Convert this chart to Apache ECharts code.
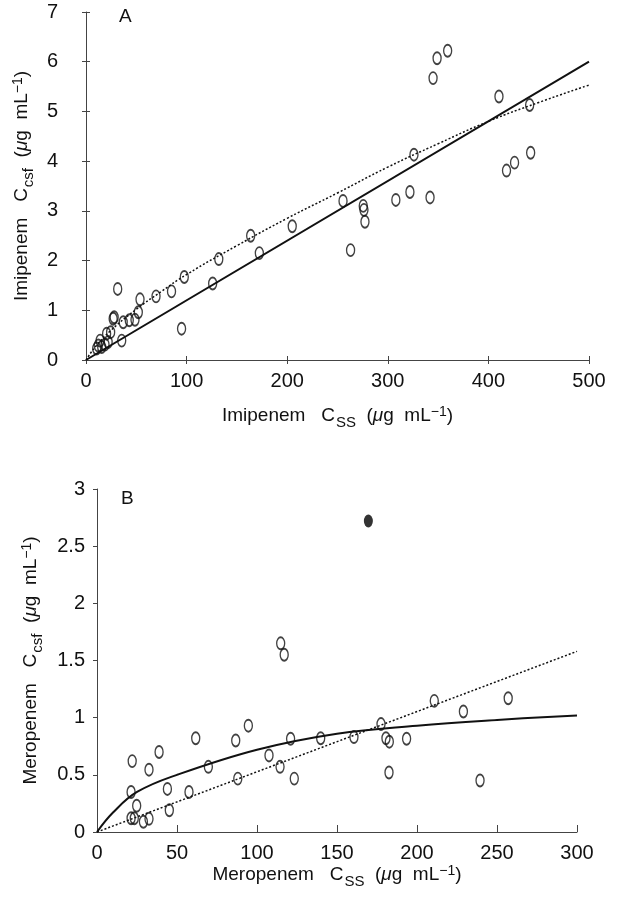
<!DOCTYPE html>
<html>
<head>
<meta charset="utf-8">
<script src="https://cdn.jsdelivr.net/npm/echarts@6/dist/echarts.min.js"></script>
<style>
  html, body { margin: 0; padding: 0; background: #fff; }
  #chart { width: 617px; height: 899px; }
</style>
</head>
<body>
<div id="chart"></div>
<script>
// Panel A: imipenem, CSF vs steady-state serum concentration
const imipenemPoints = [
  [10.6, 0.23], [12.2, 0.29], [14, 0.39], [15.6, 0.26], [18.9, 0.31], [20.5, 0.53],
  [22, 0.36], [24.5, 0.56], [27, 0.83], [28, 0.86], [31.5, 1.43], [35.5, 0.39],
  [37, 0.76], [43, 0.8], [48.7, 0.81], [52, 0.96], [53.7, 1.22], [69.6, 1.28],
  [85, 1.38], [95, 0.63], [97.7, 1.67], [125.9, 1.54], [132, 2.03], [163.7, 2.5],
  [172.3, 2.15], [205, 2.69], [255.5, 3.2], [263, 2.21], [275.6, 3.1], [276.3, 3.02],
  [277.3, 2.78], [308, 3.22], [322, 3.38], [326, 4.13], [342, 3.27], [345, 5.67],
  [349, 6.07], [359.5, 6.22], [410.5, 5.3], [418, 3.81], [426, 3.97], [441, 5.13],
  [442, 4.17]
];
const imipenemSolid = [[0, 0], [500, 6.0]];
const imipenemDotted = [
  [0, 0], [10, 0.28], [25, 0.6], [50, 1.02], [75, 1.38], [100, 1.72], [150, 2.3],
  [200, 2.85], [250, 3.36], [300, 3.88], [350, 4.35], [400, 4.8], [450, 5.18], [500, 5.53]
];

// Panel B: meropenem
const meropenemPoints = [
  [21.3, 0.12], [23.3, 0.12], [21.3, 0.35], [22, 0.62], [24.8, 0.23], [29, 0.09],
  [32.5, 0.115], [32.5, 0.545], [38.8, 0.7], [44, 0.377], [45.2, 0.19], [57.5, 0.35],
  [61.7, 0.82], [69.6, 0.57], [86.7, 0.8], [88, 0.467], [94.6, 0.93], [107.5, 0.67],
  [114.4, 0.57], [114.8, 1.65], [117, 1.55], [121, 0.816], [123.3, 0.467], [139.8, 0.82],
  [160.6, 0.83], [177.5, 0.944], [180.6, 0.82], [182.7, 0.79], [182.5, 0.52], [193.5, 0.816],
  [210.8, 1.147], [229, 1.054], [239.4, 0.45], [257, 1.17]
];
const meropenemFilled = [[169.6, 2.72]];
const meropenemSolid = [
  [0, 0], [10, 0.17], [25, 0.35], [50, 0.5], [100, 0.72],
  [150, 0.86], [200, 0.93], [250, 0.98], [300, 1.02]
];
const meropenemDotted = [[0, 0], [300, 1.58]];

const FONT = '"Liberation Sans", Arial, Helvetica, sans-serif';
const INK = '#111';
const AXIS = '#444';

const nameRich = {
  sub: { fontSize: 15, fontFamily: FONT, color: INK, lineHeight: 15, verticalAlign: 'top', padding: [10, 0, 0, 1] },
  sup: { fontSize: 14, fontFamily: FONT, color: INK, lineHeight: 14, verticalAlign: 'top' },
  it: { fontSize: 19, fontFamily: FONT, color: INK, fontStyle: 'italic', lineHeight: 22 }
};
const nameStyle = { fontSize: 19, fontFamily: FONT, color: INK, lineHeight: 22, rich: nameRich };
const labelStyle = { fontSize: 20, fontFamily: FONT, color: INK };

function twinAxis(grid, pos, min, max, interval) {
  return {
    type: 'value', gridIndex: grid, position: pos, min: min, max: max, interval: interval,
    axisLine: { show: false }, axisLabel: { show: false }, splitLine: { show: false },
    axisTick: { show: true, inside: true, length: 4, lineStyle: { color: AXIS } }
  };
}

const chart = echarts.init(document.getElementById('chart'), null, { renderer: 'canvas' });

const option = {
  backgroundColor: '#fff',
  animation: false,
  grid: [
    { left: 86, top: 12, width: 503, height: 348, containLabel: false, outerBoundsMode: 'none' },
    { left: 97, top: 489, width: 480, height: 343, containLabel: false, outerBoundsMode: 'none' }
  ],
  xAxis: [
    {
      type: 'value', gridIndex: 0, position: 'bottom', min: 0, max: 500, interval: 100,
      name: 'Imipenem   C{sub|SS}  ({it|μ}g  mL{sup|−1})', nameLocation: 'middle', nameGap: 45,
      nameTextStyle: nameStyle,
      axisLine: { lineStyle: { color: AXIS, width: 1 } },
      axisTick: { length: 4, lineStyle: { color: AXIS } },
      axisLabel: Object.assign({ margin: 11 }, labelStyle),
      splitLine: { show: false }
    },
    twinAxis(0, 'bottom', 0, 500, 100),
    {
      type: 'value', gridIndex: 1, position: 'bottom', min: 0, max: 300, interval: 50,
      name: 'Meropenem   C{sub|SS}  ({it|μ}g  mL{sup|−1})', nameLocation: 'middle', nameGap: 31,
      nameTextStyle: nameStyle,
      axisLine: { lineStyle: { color: AXIS, width: 1 } },
      axisTick: { inside: true, length: 7, lineStyle: { color: AXIS } },
      axisLabel: Object.assign({ margin: 11 }, labelStyle),
      splitLine: { show: false }
    }
  ],
  yAxis: [
    {
      type: 'value', gridIndex: 0, position: 'left', min: 0, max: 7, interval: 1,
      name: 'Imipenem   C{sub|csf}  ({it|μ}g  mL{sup|−1})', nameLocation: 'middle', nameGap: 47,
      nameTextStyle: nameStyle,
      axisLine: { lineStyle: { color: AXIS, width: 1 } },
      axisTick: { length: 4, lineStyle: { color: AXIS } },
      axisLabel: Object.assign({ margin: 28 }, labelStyle),
      splitLine: { show: false }
    },
    twinAxis(0, 'left', 0, 7, 1),
    {
      type: 'value', gridIndex: 1, position: 'left', min: 0, max: 3, interval: 0.5,
      name: 'Meropenem   C{sub|csf}  ({it|μ}g  mL{sup|−1})', nameLocation: 'middle', nameGap: 55,
      nameTextStyle: nameStyle,
      axisLine: { lineStyle: { color: AXIS, width: 1 } },
      axisTick: { length: 4, lineStyle: { color: AXIS } },
      axisLabel: Object.assign({ margin: 12 }, labelStyle),
      splitLine: { show: false }
    }
  ],
  graphic: [
    { type: 'text', left: 119, top: 7, style: { text: 'A', font: '19px ' + FONT, fill: INK } },
    { type: 'text', left: 121, top: 489, style: { text: 'B', font: '19px ' + FONT, fill: INK } }
  ],
  series: [
    {
      type: 'line', xAxisIndex: 0, yAxisIndex: 0, data: imipenemSolid,
      symbol: 'none', silent: true, lineStyle: { color: INK, width: 2 }
    },
    {
      type: 'line', xAxisIndex: 0, yAxisIndex: 0, data: imipenemDotted, smooth: true,
      symbol: 'none', silent: true, lineStyle: { color: INK, width: 1.5, type: [2, 2] }
    },
    {
      type: 'scatter', xAxisIndex: 0, yAxisIndex: 0, data: imipenemPoints,
      symbol: 'circle', symbolSize: [8, 12],
      itemStyle: { color: 'rgba(0,0,0,0)', borderColor: INK, borderWidth: 1.6 }
    },
    {
      type: 'line', xAxisIndex: 2, yAxisIndex: 2, data: meropenemSolid, smooth: 0.4,
      symbol: 'none', silent: true, lineStyle: { color: INK, width: 2 }
    },
    {
      type: 'line', xAxisIndex: 2, yAxisIndex: 2, data: meropenemDotted,
      symbol: 'none', silent: true, lineStyle: { color: INK, width: 1.5, type: [2, 2] }
    },
    {
      type: 'scatter', xAxisIndex: 2, yAxisIndex: 2, data: meropenemPoints,
      symbol: 'circle', symbolSize: [8, 12],
      itemStyle: { color: 'rgba(0,0,0,0)', borderColor: INK, borderWidth: 1.6 }
    },
    {
      type: 'scatter', xAxisIndex: 2, yAxisIndex: 2, data: meropenemFilled,
      symbol: 'circle', symbolSize: [9, 13],
      itemStyle: { color: '#000' }
    }
  ]
};

chart.setOption(option);
</script>
</body>
</html>
